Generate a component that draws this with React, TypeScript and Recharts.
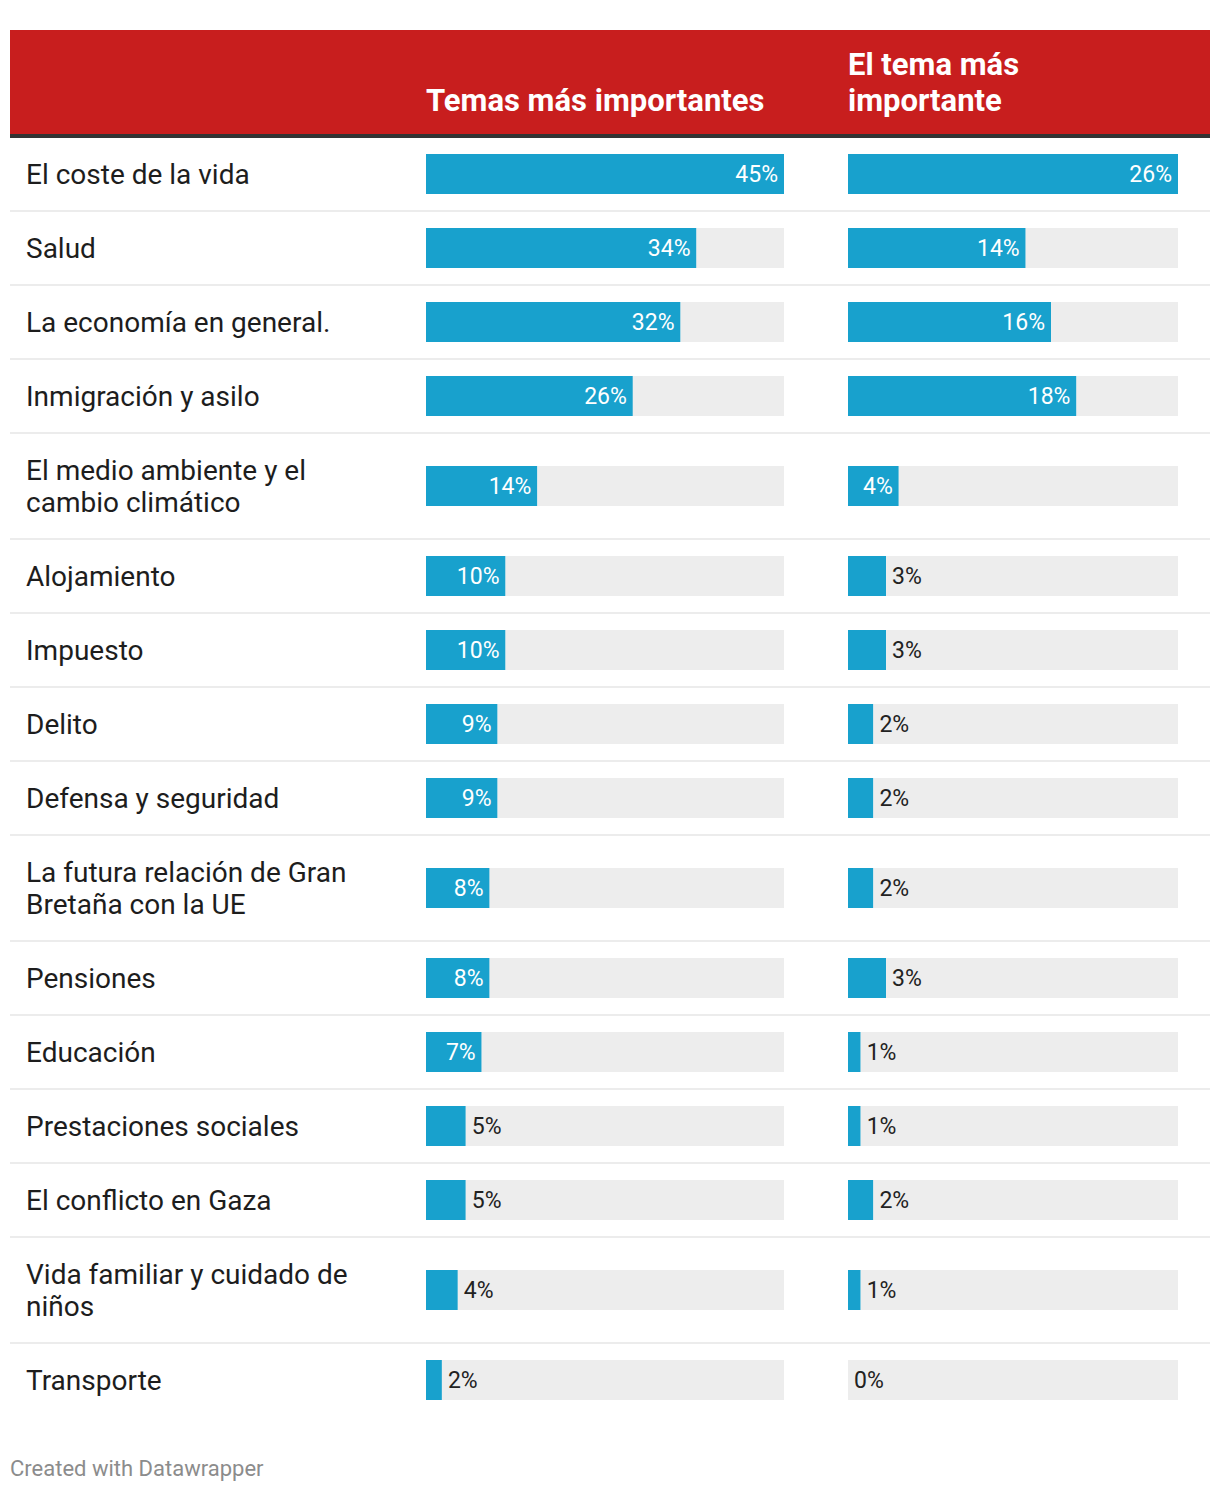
import { BarChart, Bar, XAxis, YAxis, LabelList } from "recharts";

// Data
const topics = [
  "El coste de la vida",
  "Salud",
  "La economía en general.",
  "Inmigración y asilo",
  "El medio ambiente y el cambio climático",
  "Alojamiento",
  "Impuesto",
  "Delito",
  "Defensa y seguridad",
  "La futura relación de Gran Bretaña con la UE",
  "Pensiones",
  "Educación",
  "Prestaciones sociales",
  "El conflicto en Gaza",
  "Vida familiar y cuidado de niños",
  "Transporte",
];

const topIssues = [45, 34, 32, 26, 14, 10, 10, 9, 9, 8, 8, 7, 5, 5, 4, 2];
const mainIssue = [26, 14, 16, 18, 4, 3, 3, 2, 2, 2, 3, 1, 1, 2, 1, 0];

const columnTitles = ["Temas más importantes", "El tema más importante"];

const FONT = "Roboto, 'Noto Sans', sans-serif";
const BAR_COLOR = "#18a1cd";
const TRACK_COLOR = "#ededed";
const LABEL_SIZE = 23;

// label goes inside the blue bar if it fits, otherwise right after it
const ValueLabel = (props: any) => {
  const { x, y, width, height, value, part, pxPerUnit } = props;
  const text = `${value}%`;
  const textW = (text.length - 1) * 12.9 + 16.8;
  const barW = value * pxPerUnit;
  const inside = barW >= textW + 12;
  const cy = y + height / 2 + 8;
  if (part === "bar" && inside) {
    return (
      <text x={x + width - 6} y={cy} textAnchor="end" fill="#ffffff" fontSize={LABEL_SIZE} fontFamily={FONT}>
        {text}
      </text>
    );
  }
  if (part === "rest" && !inside) {
    return (
      <text x={x + 6} y={cy} textAnchor="start" fill="#222222" fontSize={LABEL_SIZE} fontFamily={FONT}>
        {text}
      </text>
    );
  }
  return null;
};

const CellBar = ({ value, max, width }: { value: number; max: number; width: number }) => {
  const pxPerUnit = width / max;
  return (
    <BarChart
      width={width}
      height={40}
      data={[{ name: "v", value, rest: max - value }]}
      layout="vertical"
      margin={{ top: 0, right: 0, bottom: 0, left: 0 }}
      barCategoryGap={0}
    >
      <XAxis type="number" domain={[0, max]} allowDataOverflow hide />
      <YAxis type="category" dataKey="name" hide />
      <Bar dataKey="value" stackId="a" fill={BAR_COLOR} isAnimationActive={false}>
        <LabelList dataKey="value" content={<ValueLabel part="bar" pxPerUnit={pxPerUnit} />} />
      </Bar>
      <Bar dataKey="rest" stackId="a" fill={TRACK_COLOR} isAnimationActive={false}>
        <LabelList dataKey="value" content={<ValueLabel part="rest" pxPerUnit={pxPerUnit} />} />
      </Bar>
    </BarChart>
  );
};

const App = () => {
  const max1 = Math.max(...topIssues);
  const max2 = Math.max(...mainIssue);
  return (
    <div
      style={{
        position: "absolute",
        top: 0,
        left: 0,
        width: 1220,
        height: 1492,
        background: "#fff",
        fontFamily: FONT,
        color: "#1d1d1d",
      }}
    >
      <div style={{ position: "absolute", top: 30, left: 10, width: 1200 }}>
        {/* header */}
        <div
          style={{
            background: "#c81e1e",
            height: 104,
            borderBottom: "4px solid #333333",
            display: "flex",
            alignItems: "flex-end",
            color: "#fff",
            fontWeight: 700,
            fontSize: 31,
            lineHeight: "36px",
          }}
        >
          <div style={{ width: 416 }} />
          <div style={{ width: 422, paddingBottom: 15 }}>{columnTitles[0]}</div>
          <div style={{ width: 230, paddingBottom: 15 }}>{columnTitles[1]}</div>
        </div>

        {/* rows */}
        {topics.map((topic, i) => (
          <div
            key={topic}
            style={{
              display: "flex",
              alignItems: "center",
              borderBottom: i < topics.length - 1 ? "2px solid #ececec" : "none",
            }}
          >
            <div
              style={{
                width: 416,
                boxSizing: "border-box",
                padding: "21px 40px 19px 16px",
                fontSize: 28,
                lineHeight: "32px",
              }}
            >
              {topic}
            </div>
            <div style={{ width: 358, height: 40 }}>
              <CellBar value={topIssues[i]} max={max1} width={358} />
            </div>
            <div style={{ width: 64 }} />
            <div style={{ width: 330, height: 40 }}>
              <CellBar value={mainIssue[i]} max={max2} width={330} />
            </div>
          </div>
        ))}
      </div>

      <div
        style={{
          position: "absolute",
          top: 1456,
          left: 10,
          fontSize: 22,
          lineHeight: "26px",
          color: "#8c8c8c",
        }}
      >
        Created with Datawrapper
      </div>
    </div>
  );
};

export default App;
